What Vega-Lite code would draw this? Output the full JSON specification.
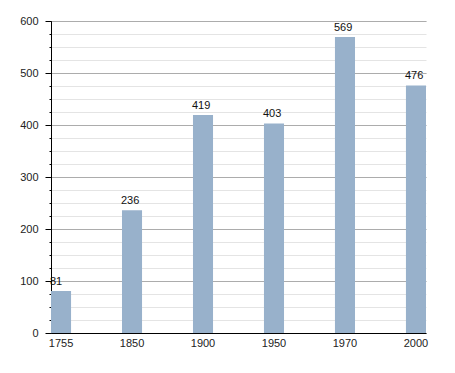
{
  "$schema": "https://vega.github.io/schema/vega-lite/v6.json",
  "autosize": "none",
  "width": 375,
  "height": 312,
  "padding": {"left": 51, "top": 21, "right": 29, "bottom": 40},
  "background": "white",
  "config": {
    "view": {"stroke": null},
    "font": "Liberation Sans",
    "axis": {"labelFont": "Liberation Sans", "labelFontSize": 11, "labelColor": "#222"}
  },
  "data": {"values": [
    {"year": "1755", "pop": 81},
    {"year": "1850", "pop": 236},
    {"year": "1900", "pop": 419},
    {"year": "1950", "pop": 403},
    {"year": "1970", "pop": 569},
    {"year": "2000", "pop": 476}
  ]},
  "encoding": {
    "x": {"field": "year", "type": "nominal", "sort": null,
      "scale": {"paddingInner": 0.7175, "paddingOuter": 0},
      "axis": {"title": null, "labelAngle": 0, "ticks": false, "domainColor": "#000", "domainWidth": 1, "labelPadding": 4, "grid": false}}
  },
  "layer": [
    {
      "mark": {"type": "bar", "color": "#98b1cb"},
      "encoding": {
        "y": {"field": "pop", "type": "quantitative",
          "scale": {"domain": [0, 600], "nice": false},
          "axis": {"orient": "left", "title": null, "values": [0,25,50,75,100,125,150,175,200,225,250,275,300,325,350,375,400,425,450,475,500,525,550,575,600],
            "labels": false, "domain": false, "tickSize": 2, "tickColor": "#000",
            "grid": true, "gridColor": "#e4e4e4", "gridWidth": 1}}
      }
    },
    {
      "mark": {"type": "text", "baseline": "bottom", "align": "left", "dx": -1, "dy": -4, "fontSize": 11, "color": "#111", "font": "Liberation Sans"},
      "encoding": {
        "x": {"field": "year", "type": "nominal", "sort": null, "bandPosition": 0},
        "y": {"field": "pop", "type": "quantitative",
          "scale": {"domain": [0, 600], "nice": false},
          "axis": {"orient": "left", "title": null, "values": [0,100,200,300,400,500,600],
            "domain": true, "domainColor": "#000", "tickSize": 6, "tickColor": "#000", "labelPadding": 7,
            "grid": true, "gridColor": "#acacac", "gridWidth": 1}},
        "text": {"field": "pop", "type": "quantitative"}
      }
    }
  ],
  "resolve": {"axis": {"y": "independent"}}
}
